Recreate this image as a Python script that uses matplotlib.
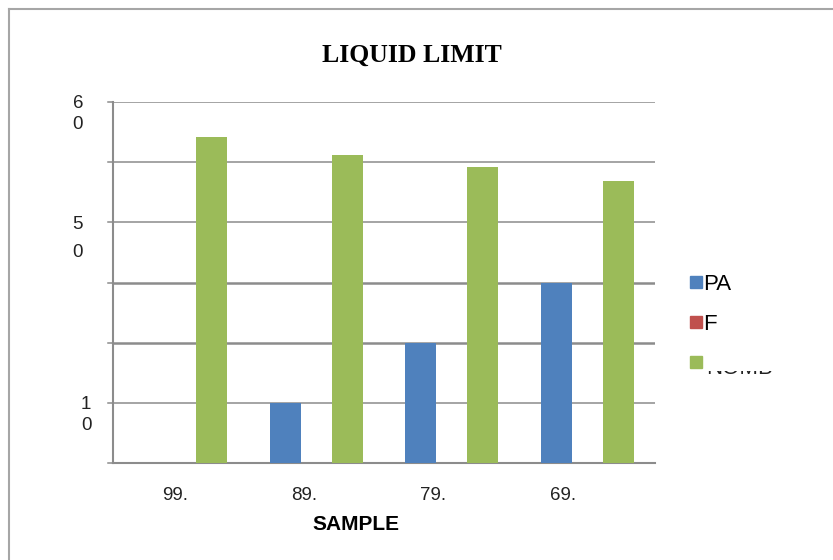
import matplotlib.pyplot as plt
import numpy as np
from matplotlib.lines import Line2D
from matplotlib.transforms import Bbox

samples = ['99.', '89.', '79.', '69.']
pa = [0, 10, 20, 30]
f = [0, 0, 0, 0]
third = [54.2, 51.2, 49.2, 46.9]
series_names = ['PA', 'F', 'NOMB']
colors = ['#4f81bd', '#c0504d', '#9bbb59']
ytick_vals = [10, 40, 60]
ytick_texts = ['1\n0', '5\n0', '6\n0']

W, H = 833, 560
fig = plt.figure(figsize=(W / 100, H / 100), dpi=100)
plt.rcParams['font.family'] = ['Liberation Sans', 'DejaVu Sans']

# plot area in pixels: x 113..655, y 102..463
ax = fig.add_axes([113 / W, 1 - 463 / H, (655 - 113) / W, (463 - 102) / H])

x = np.arange(len(samples))
bw = 0.229
ax.bar(x - bw, pa, bw, color=colors[0], zorder=3)
ax.bar(x, f, bw, color=colors[1], zorder=3)
ax.bar(x + bw, third, bw, color=colors[2], zorder=3)

ax.set_xlim(-0.5, len(samples) - 0.5)
ax.set_ylim(0, 60)

# gridlines
for v in range(10, 61, 10):
    lw = 1.8 if v in (20, 30) else 1.1
    ax.axhline(v, color='#8c8c8c', lw=lw, zorder=1)
    ax.plot([-0.535, -0.5], [v, v], color='#8c8c8c', lw=1.1, clip_on=False)
ax.plot([-0.535, -0.5], [0, 0], color='#8c8c8c', lw=1.1, clip_on=False)

for s in ['top', 'right']:
    ax.spines[s].set_visible(False)
for s in ['left', 'bottom']:
    ax.spines[s].set_color('#8c8c8c')
    ax.spines[s].set_linewidth(1.5)

ax.set_yticks([])
# labels in the reference sit slightly left of the group centres
ax.set_xticks(x - 0.045 * (x + 1))
ax.set_xticklabels(samples, fontsize=13.5, color='#222222')
ax.tick_params(axis='x', length=0, pad=17)

for v, t in zip(ytick_vals, ytick_texts):
    ls = 1.3 if v != 40 else 1.9
    xo = -0.72 if v != 10 else -0.66
    ax.text(xo, v + 1.1, t, ha='right', va='top', fontsize=13.5,
            color='#222222', linespacing=ls, multialignment='right')

fig.text(356 / W, 1 - 525 / H, 'SAMPLE', ha='center', va='center',
         fontsize=15, fontweight='bold')

fig.text(412 / W, 1 - 55 / H, 'LIQUID LIMIT', ha='center', va='center',
         fontsize=18.5, fontweight='bold', family='Liberation Serif')

# legend
handles = [Line2D([], [], marker='s', ls='', color=c, markersize=8.5) for c in colors]
leg = fig.legend(handles, ['PA', 'F', ''], loc='upper left',
                 bbox_to_anchor=(670 / W, 1 - 254 / H), frameon=False,
                 fontsize=16, handlelength=0.55, handletextpad=0.05,
                 labelspacing=0.85)
# third label is clipped in the reference: only its bottom shows
clip_txt = fig.text(706 / W, 1 - 374 / H, series_names[2], ha='left', va='baseline',
                    fontsize=16, color='#222222')
clip_txt.set_clip_box(Bbox.from_extents(700, H - 374, 790, H - 370.5))
clip_txt.set_clip_on(True)

# outer border (top and left)
fig.add_artist(Line2D([9 / W, 1], [1 - 9 / H, 1 - 9 / H], color='#a6a6a6', lw=1.5))
fig.add_artist(Line2D([9 / W, 9 / W], [0, 1 - 9 / H], color='#a6a6a6', lw=1.5))

fig.savefig('out.png', dpi=100)
